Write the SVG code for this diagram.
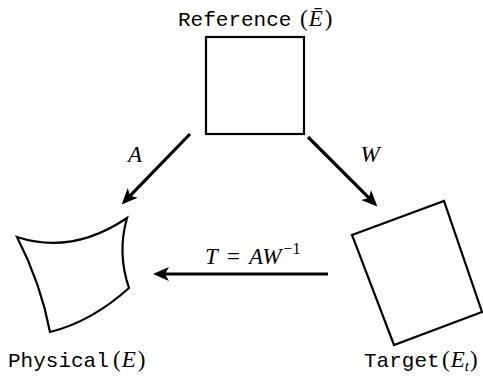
<svg xmlns="http://www.w3.org/2000/svg" width="483" height="377" viewBox="0 0 483 377">
<style>
.mono{font-family:"Liberation Mono","DejaVu Sans Mono",monospace;font-size:21px;fill:#000}
.math{font-family:"Liberation Serif","Times New Roman",serif;font-size:23px;fill:#000}
.it{font-style:italic}
.shape{fill:#fff;stroke:#000;stroke-width:2.2;stroke-linejoin:miter}
.arrow{fill:none;stroke:#000;stroke-width:3.2}
</style>
<defs>
<marker id="ah" markerUnits="userSpaceOnUse" markerWidth="17" markerHeight="15" viewBox="0 -7.5 17 15" refX="4" refY="0" orient="auto">
<path d="M0,-7 L16,0 L0,7 L4,0 Z" fill="#000"/>
</marker>
</defs>
<rect width="483" height="377" fill="#fff"/>
<g id="connectors">
<line class="arrow" x1="190" y1="134" x2="130" y2="195.8" marker-end="url(#ah)"/>
<line class="arrow" x1="308" y1="137" x2="368.9" y2="197.9" marker-end="url(#ah)"/>
<line class="arrow" x1="328" y1="274" x2="165" y2="274" marker-end="url(#ah)"/>
<text class="math it" x="135" y="162" text-anchor="middle">A</text>
<text class="math it" x="370" y="162" text-anchor="middle">W</text>
<text class="math" x="205" y="264"><tspan class="it">T</tspan><tspan x="227">=</tspan><tspan class="it" x="249">AW</tspan><tspan dx="2" dy="-10" font-size="16">−1</tspan></text>
</g>
<g id="reference">
<rect class="shape" x="206" y="37" width="98" height="97"/>
<text x="178" y="26"><tspan class="mono">Reference</tspan><tspan class="math" x="300">(<tspan class="it" dx="1">Ē</tspan><tspan dx="2">)</tspan></tspan></text>
</g>
<g id="physical">
<path class="shape" d="M17,237 Q72,255 127,218 Q117,253 129,288 Q91,322 50,332 Q41,284 17,237 Z"/>
<text x="8" y="367"><tspan class="mono">Physical</tspan><tspan class="math" x="113">(<tspan class="it" dx="1">E</tspan><tspan dx="2">)</tspan></tspan></text>
</g>
<g id="target">
<polygon class="shape" points="352,235 444,201 482,312 394,345"/>
<text x="364" y="367"><tspan class="mono">Target</tspan><tspan class="math" x="442">(<tspan class="it" dx="1">E</tspan><tspan class="it" dy="4" font-size="15">t</tspan><tspan dy="-4" dx="1">)</tspan></tspan></text>
</g>
</svg>
